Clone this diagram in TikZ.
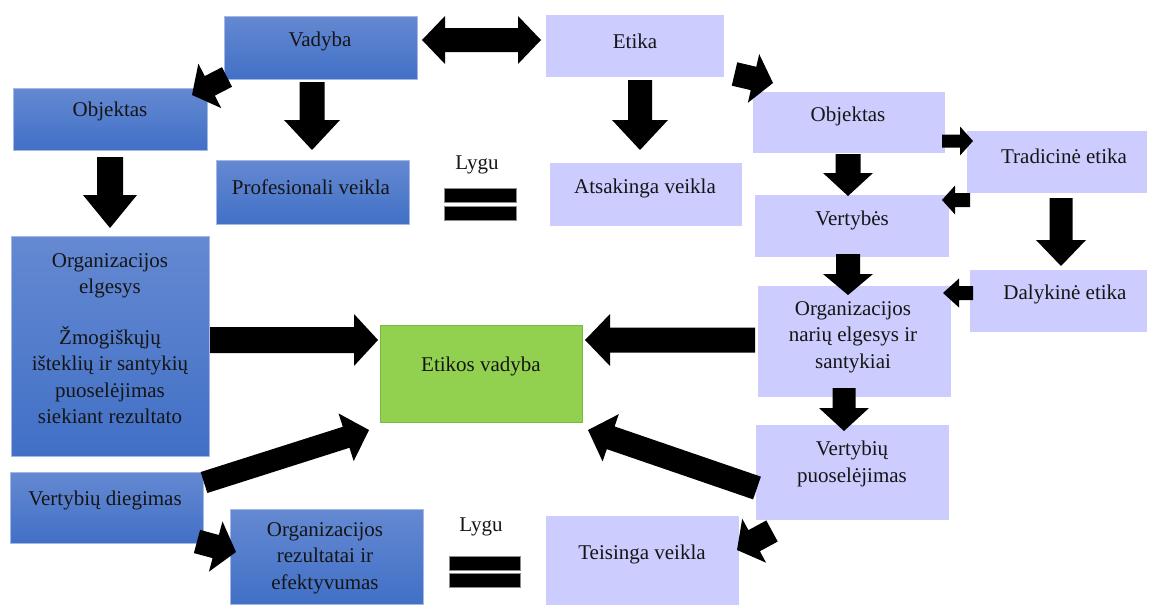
\documentclass[tikz,border=0pt]{standalone}
\usepackage{fontspec}
\setmainfont{Liberation Serif}
\usetikzlibrary{calc}

\definecolor{lav}{HTML}{CCCCFF}
\definecolor{bluetop}{HTML}{6589D2}
\definecolor{bluebot}{HTML}{4170C6}
\definecolor{bluerim}{HTML}{A3B9E4}
\definecolor{grn}{HTML}{92D050}
\definecolor{grnrim}{HTML}{7DB746}
\definecolor{ink}{HTML}{151515}

% block arrow: #1 tail, #2 tip, #3 body half-width, #4 head half-width, #5 head length
\newcommand\fatarrow[5]{%
  \coordinate (fa-b) at ($(#2)!#5!(#1)$);
  \fill[black] ($(#1)!#3!90:(#2)$) -- ($(fa-b)!#3!90:(#2)$) -- ($(fa-b)!#4!90:(#2)$)
    -- (#2) -- ($(fa-b)!#4!-90:(#2)$) -- ($(fa-b)!#3!-90:(#2)$) -- ($(#1)!#3!-90:(#2)$) -- cycle;
}
% block arrow with a head at both ends
\newcommand\fatdouble[5]{%
  \coordinate (fd-a) at ($(#1)!#5!(#2)$);
  \coordinate (fd-b) at ($(#2)!#5!(#1)$);
  \fill[black] (#1) -- ($(fd-a)!#4!90:(#2)$) -- ($(fd-a)!#3!90:(#2)$) -- ($(fd-b)!#3!90:(#2)$)
    -- ($(fd-b)!#4!90:(#2)$) -- (#2) -- ($(fd-b)!#4!-90:(#2)$) -- ($(fd-b)!#3!-90:(#2)$)
    -- ($(fd-a)!#3!-90:(#2)$) -- ($(fd-a)!#4!-90:(#2)$) -- cycle;
}

\tikzset{
  sz/.style 2 args={minimum width=#1pt, minimum height=#2pt},
  box/.style={inner sep=0pt, outer sep=0pt, anchor=north west, rectangle},
  bluebox/.style={box, top color=bluetop, bottom color=bluebot, draw=bluerim, line width=0.8pt},
  lavbox/.style={box, fill=lav},
  greenbox/.style={box, fill=grn, draw=grnrim, line width=0.8pt},
  bar/.style={box, fill=black, draw=black!45, line width=0.6pt},
  txt/.style={font=\fontsize{21}{26.6}\selectfont, align=center, inner sep=0pt, text=ink},
}

\begin{document}
\begin{tikzpicture}[x=1pt, y=-1pt]
\useasboundingbox (0,0) rectangle (1149,605);

% ---- boxes
\node[bluebox, sz={193}{63}]  (vadyba) at (224,16) {};
\node[lavbox,  sz={178}{62}]  (etika)  at (546,15) {};
\node[bluebox, sz={194}{62}]  (objL)   at (13,88) {};
\node[bluebox, sz={193}{64}]  (prof)   at (216,160) {};
\node[lavbox,  sz={192}{63}]  (ats)    at (550,163) {};
\node[lavbox,  sz={192}{61}]  (objR)   at (753,92) {};
\node[lavbox,  sz={180}{62}]  (trad)   at (967,131) {};
\node[lavbox,  sz={194}{62}]  (vert)   at (755,195) {};
\node[lavbox,  sz={177}{62}]  (dal)    at (970,270) {};
\node[bluebox, sz={198}{220}] (orgE)   at (11,236) {};
\node[greenbox,sz={202}{97}]  (etv)    at (380,325) {};
\node[lavbox,  sz={193}{111}] (orgN)   at (758,286) {};
\node[lavbox,  sz={193}{95}]  (vpuos)  at (756,425) {};
\node[bluebox, sz={193}{71}]  (vdieg)  at (10,472) {};
\node[bluebox, sz={193}{95}]  (orgR)   at (230,509) {};
\node[lavbox,  sz={193}{89}]  (teis)   at (546,516) {};

% ---- equality signs
\node[bar, sz={72}{14}] (eq1a) at (444,188) {};
\node[bar, sz={72}{14}] (eq1b) at (444,206) {};
\node[bar, sz={71}{14}] (eq2a) at (449,556) {};
\node[bar, sz={71}{14}] (eq2b) at (449,573) {};

% ---- labels
\node[txt] (vadyba-t) at (320,41)  {Vadyba};
\node[txt] (etika-t)  at (635,41)  {Etika};
\node[txt] (objL-t)   at (110,111) {Objektas};
\node[txt] (prof-t)   at (311,187) {Profesionali veikla};
\node[txt] (ats-t)    at (645,188) {Atsakinga veikla};
\node[txt] (lygu1)    at (477,165) {Lygu};
\node[txt] (objR-t)   at (848,116) {Objektas};
\node[txt] (trad-t)   at (1064,156) {Tradicinė etika};
\node[txt] (vert-t)   at (852,220) {Vertybės};
\node[txt] (dal-t)    at (1065,294) {Dalykinė etika};
\node[txt] (orgE-t1)  at (110,276) {Organizacijos\\elgesys};
\node[txt] (orgE-t2)  at (110,375) {Žmogiškųjų\\išteklių ir santykių\\puoselėjimas\\siekiant rezultato};
\node[txt] (etv-t)    at (481,366) {Etikos vadyba};
\node[txt] (orgN-t)   at (853,337) {Organizacijos\\narių elgesys ir\\santykiai};
\node[txt] (vpuos-t)  at (852,464) {Vertybių\\puoselėjimas};
\node[txt] (vdieg-t)  at (105,500) {Vertybių diegimas};
\node[txt] (orgR-t)   at (325,558) {Organizacijos\\rezultatai ir\\efektyvumas};
\node[txt] (lygu2)    at (481,527) {Lygu};
\node[txt] (teis-t)   at (642,554) {Teisinga veikla};

% ---- arrow end points
\coordinate (vadyba-e) at (422,40);   \coordinate (etika-w) at (541,40);
\coordinate (vadyba-sw) at (227,77);  \coordinate (objL-ne) at (192,95);
\coordinate (vadyba-s) at (312,82);   \coordinate (prof-n) at (312,150);
\coordinate (etika-s) at (640,80);    \coordinate (ats-n) at (640,150);
\coordinate (etika-se) at (734.5,74); \coordinate (objR-nw) at (773,83);
\coordinate (objL-s) at (110,157);    \coordinate (orgE-n) at (110,228);
\coordinate (orgE-e) at (210,340);    \coordinate (etv-w) at (378,340);
\coordinate (vdieg-ne) at (204,482.5);\coordinate (etv-sw) at (369,430);
\coordinate (vdieg-se) at (197,541.5);\coordinate (orgR-w) at (236,552);
\coordinate (orgN-w) at (755,340);    \coordinate (etv-e) at (585,340);
\coordinate (vpuos-w) at (757,488);   \coordinate (etv-se) at (588,430);
\coordinate (vpuos-sw) at (772,531);  \coordinate (teis-e) at (737,550);
\coordinate (objR-s) at (848,154);    \coordinate (vert-n) at (848,196);
\coordinate (objR-e) at (942,141);    \coordinate (trad-w) at (973,141);
\coordinate (trad-sw) at (970,200);   \coordinate (vert-e) at (942,200);
\coordinate (trad-s) at (1061,198);   \coordinate (dal-n) at (1061,266);
\coordinate (vert-s) at (848,254);    \coordinate (orgN-n) at (848,295);
\coordinate (dal-w) at (973,293);     \coordinate (orgN-e) at (943,293);
\coordinate (orgN-s) at (844,388);    \coordinate (vpuos-n) at (844,431);

% ---- block arrows
\fatdouble{vadyba-e}{etika-w}{12pt}{24pt}{23pt}
\fatarrow{vadyba-sw}{objL-ne}{11pt}{25pt}{20pt}
\fatarrow{vadyba-s}{prof-n}{12.5pt}{28pt}{30pt}
\fatarrow{etika-s}{ats-n}{12pt}{28pt}{30pt}
\fatarrow{etika-se}{objR-nw}{12pt}{25pt}{20pt}
\fatarrow{objL-s}{orgE-n}{13pt}{27pt}{33pt}
\fatarrow{orgE-e}{etv-w}{13pt}{26pt}{24pt}
\fatarrow{vdieg-ne}{etv-sw}{11pt}{25pt}{24pt}
\fatarrow{vdieg-se}{orgR-w}{12pt}{26pt}{21pt}
\fatarrow{orgN-w}{etv-e}{12.5pt}{26pt}{25pt}
\fatarrow{vpuos-w}{etv-se}{12pt}{25pt}{24pt}
\fatarrow{vpuos-sw}{teis-e}{12pt}{25pt}{19.5pt}
\fatarrow{objR-s}{vert-n}{12.5pt}{25pt}{23pt}
\fatarrow{objR-e}{trad-w}{6.5pt}{14.5pt}{13pt}
\fatarrow{trad-sw}{vert-e}{7pt}{14.5pt}{13pt}
\fatarrow{trad-s}{dal-n}{11.5pt}{25pt}{26pt}
\fatarrow{vert-s}{orgN-n}{12pt}{25pt}{21pt}
\fatarrow{dal-w}{orgN-e}{7pt}{14.5pt}{16pt}
\fatarrow{orgN-s}{vpuos-n}{11.5pt}{25pt}{23pt}
\end{tikzpicture}
\end{document}
